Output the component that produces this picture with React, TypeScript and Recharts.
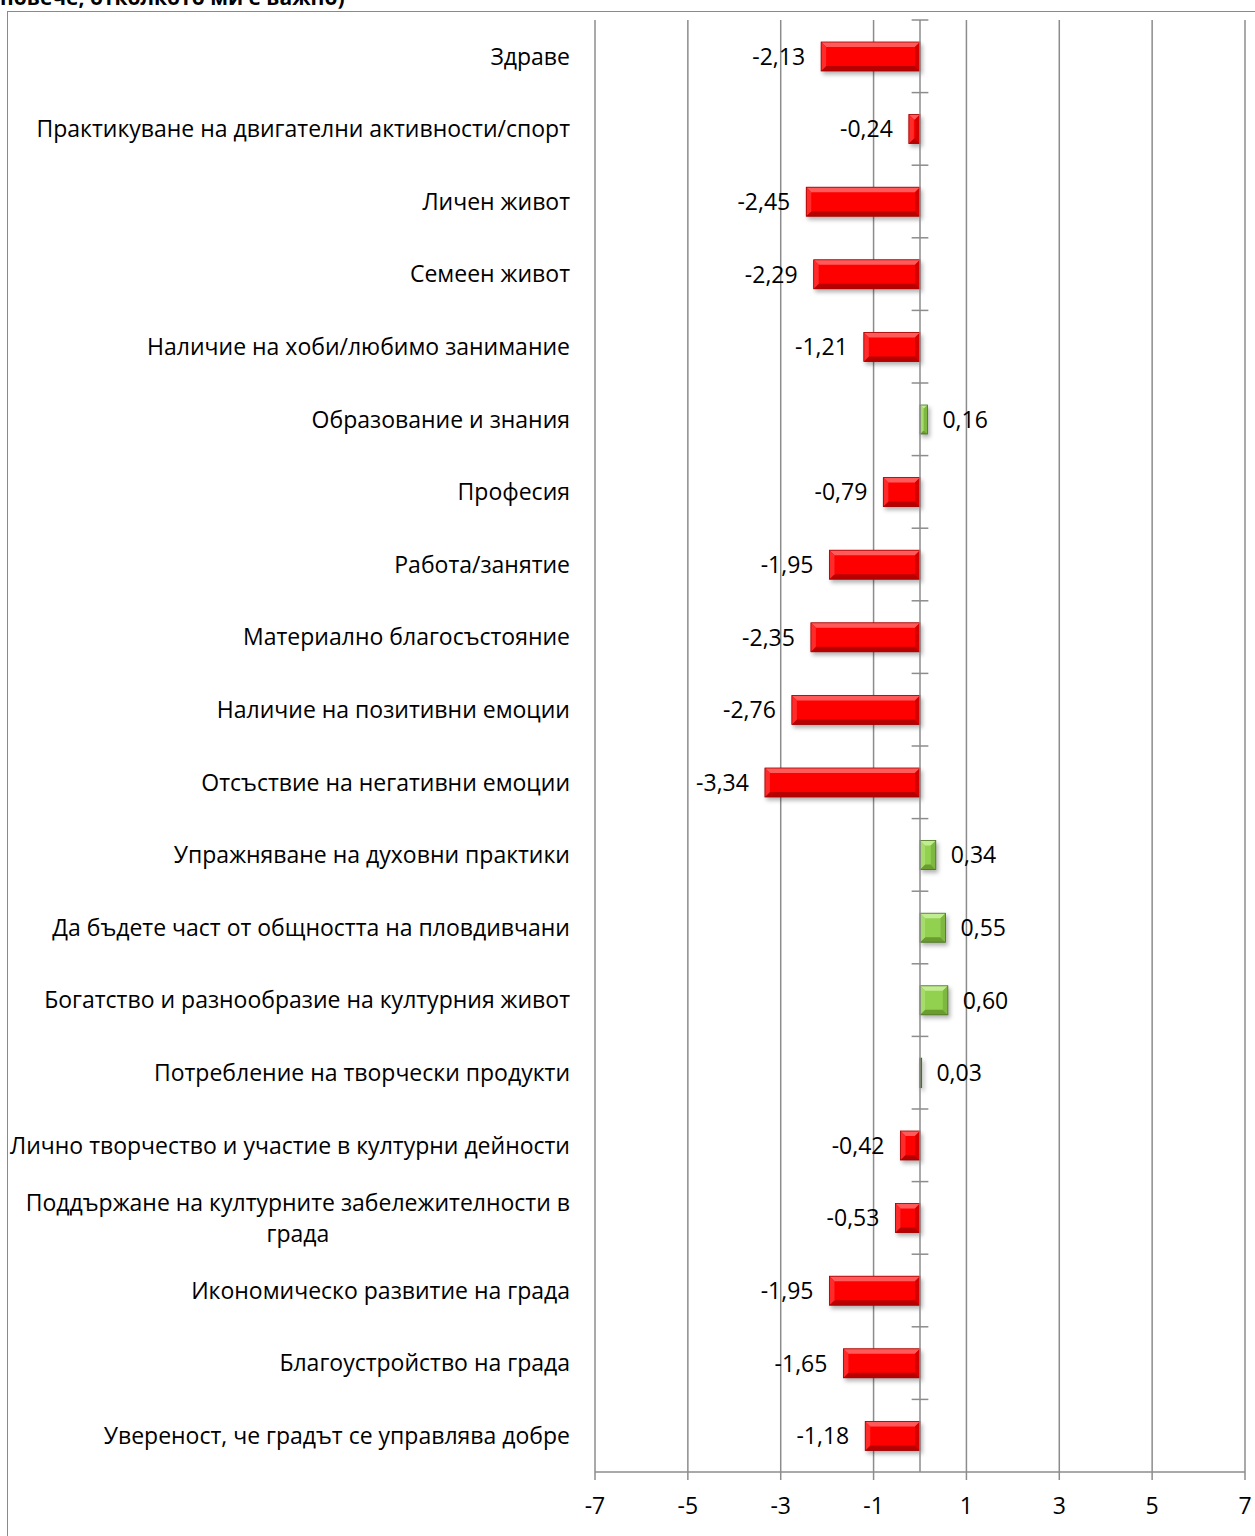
import React from "react";
import {
  BarChart,
  Bar,
  XAxis,
  YAxis,
  CartesianGrid,
  ReferenceLine,
  LabelList,
} from "recharts";

const titleText = "повече, отколкото ми е важно)";

const categories = [
  "Здраве",
  "Практикуване на двигателни активности/спорт",
  "Личен живот",
  "Семеен живот",
  "Наличие на хоби/любимо занимание",
  "Образование и знания",
  "Професия",
  "Работа/занятие",
  "Материално благосъстояние",
  "Наличие на позитивни емоции",
  "Отсъствие на негативни емоции",
  "Упражняване на духовни практики",
  "Да бъдете част от общността на пловдивчани",
  "Богатство и разнообразие на културния живот",
  "Потребление на творчески продукти",
  "Лично творчество и участие в културни дейности",
  "Поддържане на културните забележителности в града",
  "Икономическо развитие на града",
  "Благоустройство на града",
  "Увереност, че градът се управлява добре",
];

const values = [
  -2.13, -0.24, -2.45, -2.29, -1.21, 0.16, -0.79, -1.95, -2.35, -2.76, -3.34,
  0.34, 0.55, 0.6, 0.03, -0.42, -0.53, -1.95, -1.65, -1.18,
];

const xTicks = [-7, -5, -3, -1, 1, 3, 5, 7];

const data = categories.map((name, i) => ({ name, value: values[i] }));

const FONT = "'Open Sans', 'Noto Sans', sans-serif";
const FS = 23;
const GRID = "#8c8c8c";
const WRAP_W = 580;

let ctx: CanvasRenderingContext2D | null = null;
function measure(t: string): number {
  if (!ctx) {
    const c = document.createElement("canvas");
    ctx = c.getContext("2d");
  }
  if (!ctx) return t.length * FS * 0.55;
  ctx.font = `${FS}px 'Open Sans'`;
  return ctx.measureText(t).width;
}

function wrapText(t: string): string[] {
  const words = t.split(" ");
  const lines: string[] = [];
  let cur = "";
  for (const w of words) {
    const cand = cur ? cur + " " + w : w;
    if (measure(cand) > WRAP_W && cur) {
      lines.push(cur);
      cur = w;
    } else cur = cand;
  }
  if (cur) lines.push(cur);
  return lines;
}

const CatTick = (props: any) => {
  const { x, y, payload } = props;
  const lines = wrapText(String(payload.value));
  if (lines.length === 1) {
    return (
      <text x={x} y={y} dy="0.36em" textAnchor="end" fontFamily={FONT} fontSize={FS} fill="#000">
        {lines[0]}
      </text>
    );
  }
  const maxW = Math.max(...lines.map(measure));
  const cx = x - maxW / 2;
  const lh = 31;
  const start = y - ((lines.length - 1) * lh) / 2;
  return (
    <g>
      {lines.map((l, i) => (
        <text key={i} x={cx} y={start + i * lh} dy="0.36em" textAnchor="middle" fontFamily={FONT} fontSize={FS} fill="#000">
          {l}
        </text>
      ))}
    </g>
  );
};

const RED = { main: "#ff0000", top: "#ff5a5a", bottom: "#b80000", left: "#ff2a2a", right: "#d40000", edge: "#a00000" };
const GREEN = { main: "#92d050", top: "#c2ec92", bottom: "#6a9c30", left: "#a6dc6a", right: "#7fb840", edge: "#4a7020" };

const BevelBar = (props: any) => {
  const { x, y, width, height, value } = props;
  const l = width < 0 ? x + width : x;
  const w = Math.abs(width);
  const t = height < 0 ? y + height : y;
  const h = Math.abs(height);
  const c = value < 0 ? RED : GREEN;
  const b = Math.min(5, w / 2, h / 2);
  const r = l + w;
  const bt = t + h;
  return (
    <g style={{ filter: "drop-shadow(2px 3px 2px rgba(0,0,0,0.3))" }}>
      <rect x={l} y={t} width={w} height={h} fill={c.main} />
      <polygon points={`${l},${t} ${r},${t} ${r - b},${t + b} ${l + b},${t + b}`} fill={c.top} />
      <polygon points={`${l},${bt} ${r},${bt} ${r - b},${bt - b} ${l + b},${bt - b}`} fill={c.bottom} />
      <polygon points={`${l},${t} ${l + b},${t + b} ${l + b},${bt - b} ${l},${bt}`} fill={c.left} />
      <polygon points={`${r},${t} ${r - b},${t + b} ${r - b},${bt - b} ${r},${bt}`} fill={c.right} />
      <rect x={l} y={t} width={w} height={h} fill="none" stroke={c.edge} strokeWidth={w < 3 ? 1.4 : 0.8} />
    </g>
  );
};

const fmt = (v: number) => v.toFixed(2).replace(".", ",");

const ValueLabel = (props: any) => {
  const { x, y, width, height, value } = props;
  const l = width < 0 ? x + width : x;
  const r = l + Math.abs(width);
  const cy = y + height / 2;
  const neg = value < 0;
  return (
    <text
      x={neg ? l - 16 : r + 15}
      y={cy}
      dy="0.36em"
      textAnchor={neg ? "end" : "start"}
      fontFamily={FONT}
      fontSize={FS}
      fill="#000"
    >
      {fmt(value)}
    </text>
  );
};

export default function App() {
  return (
    <div
      style={{
        position: "absolute",
        left: 0,
        top: 0,
        width: 1255,
        height: 1536,
        overflow: "hidden",
        background: "#fff",
      }}
    >
      <div
        style={{
          position: "absolute",
          left: 0,
          top: -18,
          fontFamily: FONT,
          fontWeight: 700,
          fontSize: 21,
          lineHeight: "30px",
          whiteSpace: "nowrap",
          color: "#000",
        }}
      >
        {titleText}
      </div>
      <div
        style={{
          position: "absolute",
          left: 7,
          top: 11,
          width: 1400,
          height: 1700,
          border: "1.5px solid #8a8a8a",
        }}
      />
      <div style={{ position: "absolute", left: 0, top: 0 }}>
        <BarChart
          width={1255}
          height={1536}
          data={data}
          layout="vertical"
          margin={{ top: 20, right: 10, bottom: 24, left: 0 }}
          barSize={29}
        >
          <CartesianGrid horizontal={false} vertical={true} stroke={GRID} strokeWidth={1.5} />
          <XAxis
            type="number"
            domain={[-7, 7]}
            ticks={xTicks}
            allowDataOverflow
            height={40}
            axisLine={{ stroke: GRID, strokeWidth: 1.5 }}
            tickLine={{ stroke: GRID, strokeWidth: 1.5 }}
            tickSize={8}
            tickMargin={18}
            tick={{ fontFamily: FONT, fontSize: FS, fill: "#000" }}
          />
          <YAxis
            type="category"
            dataKey="name"
            width={595}
            axisLine={false}
            tickLine={false}
            tickSize={0}
            tickMargin={25}
            interval={0}
            tick={<CatTick />}
          />
          <ReferenceLine x={0} stroke={GRID} strokeWidth={1.5} />
          {categories.map((c) => (
            <ReferenceLine
              key={"t" + c}
              segment={[
                { x: -0.18, y: c },
                { x: 0.18, y: c },
              ]}
              position="start"
              stroke={GRID}
              strokeWidth={1.5}
            />
          ))}
          <Bar dataKey="value" isAnimationActive={false} shape={<BevelBar />}>
            <LabelList dataKey="value" content={<ValueLabel />} />
          </Bar>
        </BarChart>
      </div>
    </div>
  );
}
